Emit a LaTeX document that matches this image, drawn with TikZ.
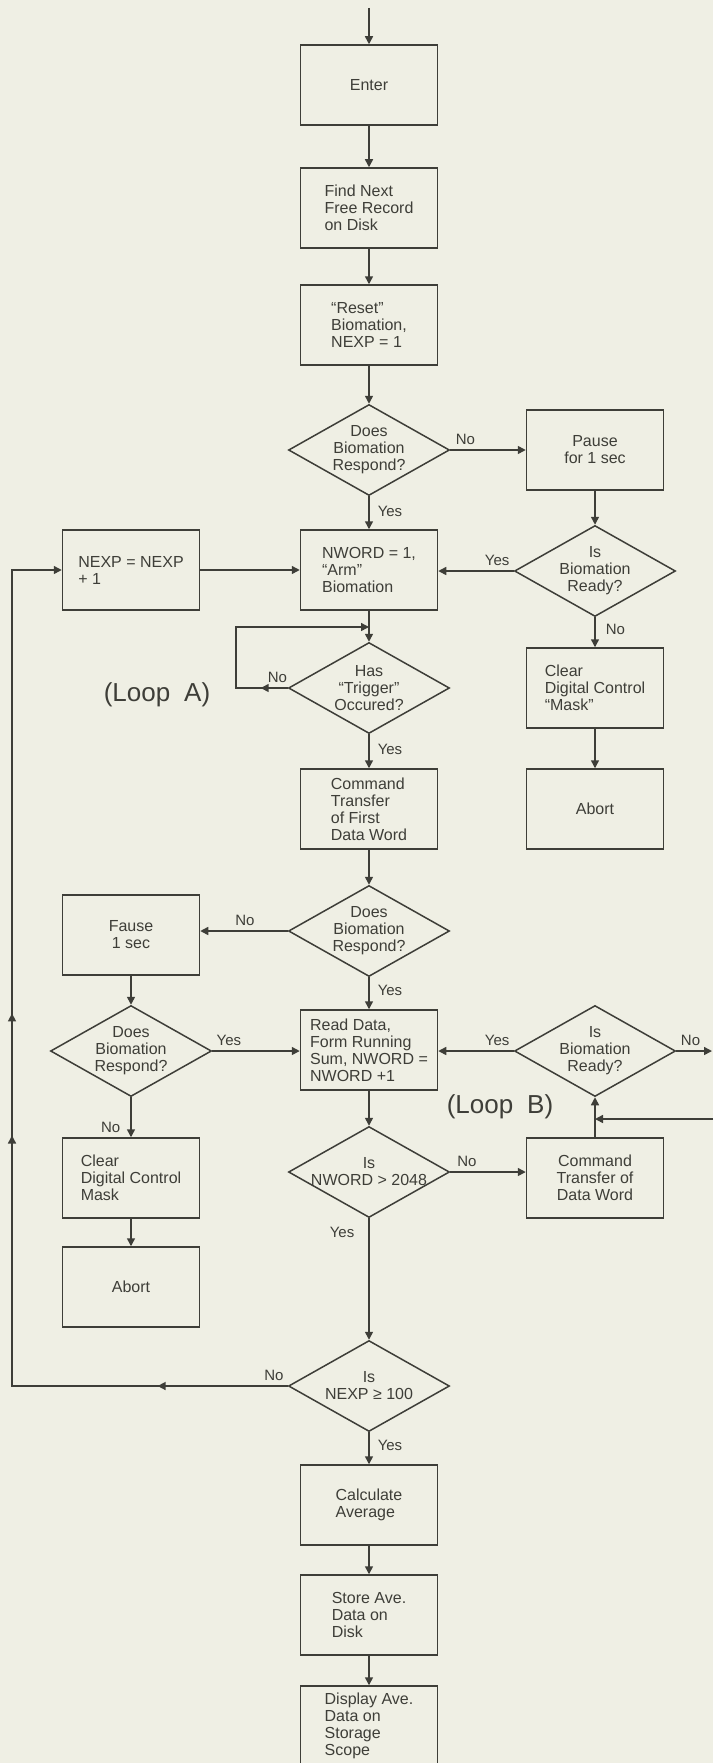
\documentclass[tikz,border=0pt]{standalone}
\usepackage{fontspec}
\setmainfont{Liberation Sans}
\usetikzlibrary{arrows.meta,shapes.geometric,decorations.markings}
\definecolor{paper}{RGB}{239,239,228}
\definecolor{ink}{RGB}{62,62,56}

\begin{document}
\begin{tikzpicture}[x=1pt,y=-1pt,
    box/.style={draw=ink,line width=1.5pt,rectangle,minimum width=137pt,minimum height=80pt,
      inner sep=2pt,align=left,text=ink,font=\fontsize{16}{17}\selectfont},
    cbox/.style={box,align=center},
    decision/.style={draw=ink,line width=1.5pt,diamond,shape aspect=1.77,minimum width=161pt,
      minimum height=91pt,inner xsep=-4pt,inner ysep=0pt,align=center,text=ink,
      font=\fontsize{16}{17}\selectfont},
    link/.style={draw=ink,line width=1.5pt},
    flow/.style={link,-{Triangle[length=8pt,width=8pt]}},
    midarrow/.style={postaction={decorate,decoration={markings,
      mark=at position #1 with {\arrow{Triangle[length=8pt,width=8pt]}}}}},
    answer/.style={text=ink,font=\fontsize{15}{15}\selectfont,inner sep=1pt},
    looplabel/.style={text=ink,font=\fontsize{26}{26}\selectfont}]
  \def\xm{369}  % main column
  \def\xr{595}  % right column
  \def\xl{131}  % left column
  \fill[paper] (0,0) rectangle (713,1763);
  \useasboundingbox (0,0) rectangle (713,1763);

  % main column
  \coordinate (start) at (\xm,8);
  \node[cbox] (enter) at (\xm,85) {Enter};
  \node[box] (find) at (\xm,208) {Find Next\\Free Record\\on Disk};
  \node[box] (reset) at (\xm,325) {``Reset''\\Biomation,\\NEXP = 1};
  \node[decision] (respA) at (\xm,450) {Does\\Biomation\\Respond?};
  \node[box] (arm) at (\xm,570) {NWORD = 1,\\``Arm''\\Biomation};
  \node[decision] (trig) at (\xm,688) {Has\\``Trigger''\\Occured?};
  \node[box] (first) at (\xm,809) {Command\\Transfer\\of First\\Data Word};
  \node[decision] (respB) at (\xm,931) {Does\\Biomation\\Respond?};
  \node[box] (read) at (\xm,1050) {Read Data,\\Form Running\\Sum, NWORD =\\NWORD +1};
  \node[decision] (nword) at (\xm,1172) {Is\\NWORD > 2048};
  \node[decision] (nexpq) at (\xm,1386) {Is\\NEXP ≥ 100};
  \node[box] (avg) at (\xm,1505) {Calculate\\Average};
  \node[box] (store) at (\xm,1615) {Store Ave.\\Data on\\Disk};
  \node[box] (scope) at (\xm,1726) {Display Ave.\\Data on\\Storage\\Scope};

  % right column
  \node[cbox] (pauseA) at (\xr,450) {Pause\\for 1 sec};
  \node[decision] (readyA) at (\xr,571) {Is\\Biomation\\Ready?};
  \node[box] (maskA) at (\xr,688) {Clear\\Digital Control\\``Mask''};
  \node[cbox] (abortA) at (\xr,809) {Abort};
  \node[decision] (readyB) at (\xr,1051) {Is\\Biomation\\Ready?};
  \node[cbox] (word) at (\xr,1178) {Command\\Transfer of\\Data Word};

  % left column
  \node[box] (nexp) at (\xl,570) {NEXP = NEXP\\+ 1};
  \node[cbox] (pauseB) at (\xl,935) {Fause\\1 sec};
  \node[decision] (respC) at (\xl,1051) {Does\\Biomation\\Respond?};
  \node[box] (maskB) at (\xl,1178) {Clear\\Digital Control\\Mask};
  \node[cbox] (abortB) at (\xl,1287) {Abort};

  \node[looplabel] (loopA) at (157,695) {(Loop\hspace{14pt}A)};
  \node[looplabel] (loopB) at (500,1107) {(Loop\hspace{14pt}B)};

  \coordinate (loopAside) at (236,688);
  \coordinate (loopAtop) at (\xm,627);
  \coordinate (edgeA) at (712,1051);
  \coordinate (edgeB) at (713,1119);
  \coordinate (railbot) at (12,1386);
  \coordinate (railtop) at (12,570);

  % straight down the middle
  \draw[flow] (start) -- (enter);
  \draw[flow] (enter) -- (find);
  \draw[flow] (find) -- (reset);
  \draw[flow] (reset) -- (respA);
  \draw[flow] (respA) -- node[answer,right=7pt,pos=0.45] {Yes} (arm);
  \draw[flow] (arm) -- (trig);
  \draw[flow] (trig) -- node[answer,right=7pt,pos=0.45] {Yes} (first);
  \draw[flow] (first) -- (respB);
  \draw[flow] (respB) -- node[answer,right=7pt,pos=0.4] {Yes} (read);
  \draw[flow] (read) -- (nword);
  \draw[flow] (nword) -- node[answer,left=13pt,pos=0.12] {Yes} (nexpq);
  \draw[flow] (nexpq) -- node[answer,right=7pt,pos=0.4] {Yes} (avg);
  \draw[flow] (avg) -- (store);
  \draw[flow] (store) -- (scope);

  % right side
  \draw[flow] (respA.east) -- node[answer,above=4pt,pos=0.2] {No} (respA.east -| pauseA.west);
  \draw[flow] (pauseA) -- (readyA);
  \draw[flow] (readyA.west) -- node[answer,above=4pt,pos=0.22] {Yes} (readyA.west -| arm.east);
  \draw[flow] (readyA.south) -- node[answer,right=9pt,pos=0.4] {No} (maskA);
  \draw[flow] (maskA) -- (abortA);
  \draw[flow] (readyB.west) -- node[answer,above=4pt,pos=0.22] {Yes} (readyB.west -| read.east);
  \draw[flow] (readyB.east) -- node[answer,above=4pt,pos=0.4] {No} (edgeA);
  \draw[flow] (nword.east) -- node[answer,above=4pt,pos=0.22] {No} (nword.east -| word.west);
  \draw[flow] (word.north) -- (readyB.south);
  \draw[flow] (edgeB) -- (edgeB -| readyB.south);

  % loop A
  \draw[flow,midarrow=0.11] (trig.west) -- node[answer,above=4pt,pos=0.2] {No} (loopAside)
    -- (loopAside |- loopAtop) -- (loopAtop);

  % left side
  \draw[flow] (nexp.east) -- (nexp.east -| arm.west);
  \draw[flow] (respB.west) -- node[answer,above=4pt,pos=0.49] {No} (respB.west -| pauseB.east);
  \draw[flow] (pauseB) -- (respC);
  \draw[flow] (respC.east) -- node[answer,above=4pt,pos=0.19] {Yes} (respC.east -| read.west);
  \draw[flow] (respC.south) -- node[answer,left=9pt,pos=0.75] {No} (maskB);
  \draw[flow] (maskB) -- (abortB);

  % back round for the next experiment
  \draw[flow,midarrow=0.114,midarrow=0.461,midarrow=0.568] (nexpq.west)
    -- node[answer,above=4pt,pos=0.05] {No} (railbot) -- (railtop) -- (nexp.west);
\end{tikzpicture}
\end{document}
